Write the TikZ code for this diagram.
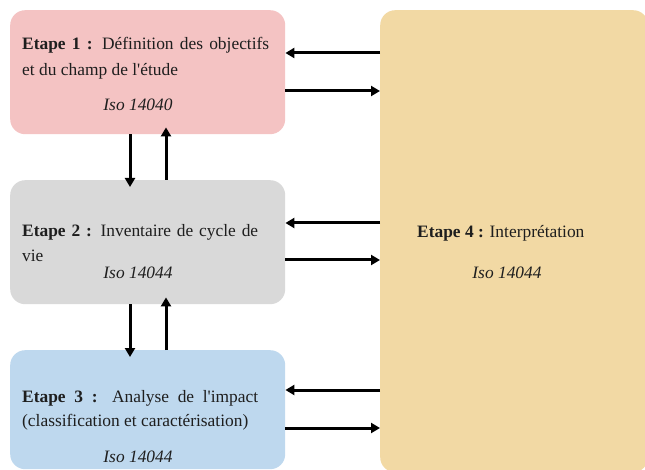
\documentclass[tikz,border=0pt]{standalone}
\usepackage{fontspec}
\setmainfont{Liberation Serif}
\usetikzlibrary{arrows.meta,calc}
\definecolor{pinkbox}{RGB}{244,195,195}
\definecolor{graybox}{RGB}{217,217,217}
\definecolor{bluebox}{RGB}{190,216,238}
\definecolor{tanbox}{RGB}{242,217,164}
\definecolor{txt}{RGB}{30,30,30}
\begin{document}
\begin{tikzpicture}[x=1pt,y=-1pt,
  box/.style={rectangle, rounded corners=15pt, draw=none, inner sep=0pt, anchor=north west},
  line/.style={anchor=base west, inner sep=0pt, text=txt, font=\fontsize{17.4}{20}\selectfont},
  iso/.style={anchor=base, inner sep=0pt, text=txt, font=\fontsize{17.4}{20}\selectfont\itshape},
  arr/.style={line width=3pt, -{Triangle[length=9pt,width=10pt]}}]
\useasboundingbox (0,0) rectangle (645,470);
% boxes
\node[box, fill=pinkbox, minimum width=275pt, minimum height=124pt] (b1) at (10,10) {};
\node[box, fill=graybox, minimum width=275pt, minimum height=124pt] (b2) at (10,180) {};
\node[box, fill=bluebox, minimum width=275pt, minimum height=119pt] (b3) at (10,350) {};
\node[box, fill=tanbox, minimum width=268pt, minimum height=462pt] (b4) at (380,10) {};
% texts
\node[line] (t1a) at (22,50) {\makebox[247pt][s]{\textbf{Etape 1 :} Définition des objectifs}};
\node[line] (t1b) at (22,76) {et du champ de l\textquotesingle étude};
\node[iso] (t1c) at (138,111) {Iso 14040};
\node[line] (t2a) at (22,237) {\makebox[236pt][s]{\textbf{Etape 2 :} Inventaire de cycle de}};
\node[line] (t2b) at (22,262) {vie};
\node[iso] (t2c) at (138,279) {Iso 14044};
\node[line] (t3a) at (22,402) {\makebox[236pt][s]{\textbf{Etape 3 :} Analyse de l\textquotesingle impact}};
\node[line] (t3b) at (22,426) {(classification et caractérisation)};
\node[iso] (t3c) at (138,462) {Iso 14044};
\node[line] (t4a) at (417,238) {\textbf{Etape 4 :} Interprétation};
\node[iso] (t4b) at (507,279) {Iso 14044};
% level coordinates
\coordinate (h1) at (0,53);
\coordinate (h2) at (0,91);
\coordinate (h3) at (0,223);
\coordinate (h4) at (0,260);
\coordinate (h5) at (0,390);
\coordinate (h6) at (0,428);
\coordinate (vd) at (130,0);
\coordinate (vu) at (166,0);
% horizontal arrows
\draw[arr] (b4.west |- h1) -- (b1.east |- h1);
\draw[arr] (b1.east |- h2) -- (b4.west |- h2);
\draw[arr] (b4.west |- h3) -- (b2.east |- h3);
\draw[arr] (b2.east |- h4) -- (b4.west |- h4);
\draw[arr] (b4.west |- h5) -- (b3.east |- h5);
\draw[arr] (b3.east |- h6) -- (b4.west |- h6);
% vertical arrows
\draw[arr, shorten >=-7pt] (b1.south -| vd) -- (b2.north -| vd);
\draw[arr, shorten >=-7pt] (b2.north -| vu) -- (b1.south -| vu);
\draw[arr, shorten >=-7pt] (b2.south -| vd) -- (b3.north -| vd);
\draw[arr, shorten >=-7pt] (b3.north -| vu) -- (b2.south -| vu);
\end{tikzpicture}
\end{document}
